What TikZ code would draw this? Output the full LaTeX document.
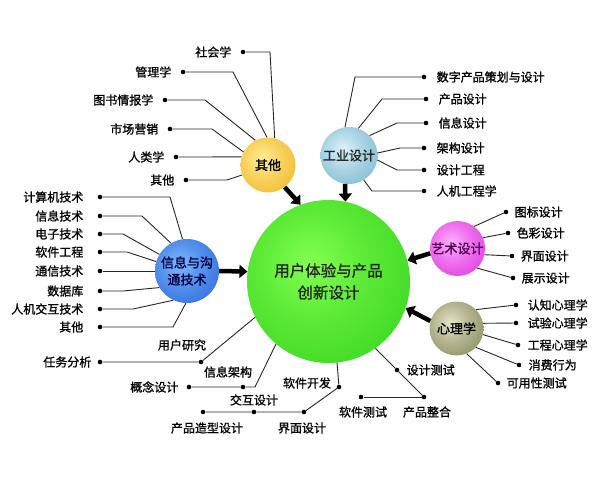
\documentclass[tikz,border=0pt]{standalone}
\usepackage{fontspec}
\setmainfont{Noto Sans CJK SC}[FakeBold=1.2]
\usetikzlibrary{arrows.meta,positioning}
\definecolor{greenin}{RGB}{130,255,80}
\definecolor{greenout}{RGB}{40,205,20}
\definecolor{yellowin}{RGB}{255,238,150}
\definecolor{yellowout}{RGB}{238,172,20}
\definecolor{cyanin}{RGB}{220,242,250}
\definecolor{cyanout}{RGB}{105,172,198}
\definecolor{bluein}{RGB}{125,185,255}
\definecolor{blueout}{RGB}{30,90,210}
\definecolor{pinkin}{RGB}{255,175,255}
\definecolor{pinkout}{RGB}{215,30,215}
\definecolor{olivein}{RGB}{228,228,200}
\definecolor{oliveout}{RGB}{118,118,70}
\newcommand\hubshading[3]{\pgfdeclareradialshading{#1}{\pgfpoint{-6bp}{6bp}}{color(0bp)=(#2); color(18bp)=(#2!55!#3); color(48bp)=(#3); color(100bp)=(#3)}}
\hubshading{mainshade}{greenin}{greenout}
\hubshading{qtshade}{yellowin}{yellowout}
\hubshading{gyshade}{cyanin}{cyanout}
\hubshading{xxshade}{bluein}{blueout}
\hubshading{ysshade}{pinkin}{pinkout}
\hubshading{xlshade}{olivein}{oliveout}

\begin{document}
\begin{tikzpicture}[x=1pt,y=-1pt,
  hub/.style={circle,shade,inner sep=0pt,align=center,font=\fontsize{13}{17}\selectfont},
  dot/.style={circle,fill=black,inner sep=0pt,minimum size=4.6pt},
  lab/.style={inner sep=1pt,font=\fontsize{12}{14}\selectfont},
  ln/.style={black!85,line width=0.9pt},
  big/.style={line width=4.5pt,-{Triangle[length=8pt,width=13pt]}}
]
\useasboundingbox (0,0) rectangle (600,480);
\node[hub,minimum size=163pt,shading=mainshade,text=black!85,font=\fontsize{15.5}{22}\selectfont] (main) at (328.5,281.5) {用户体验与产品\\创新设计};
\node[hub,minimum size=55pt,shading=qtshade] (qt) at (268,165) {其他};
\node[hub,minimum size=57pt,shading=gyshade,text=black!85] (gy) at (349,155.5) {工业设计};
\node[hub,minimum size=64pt,shading=xxshade,text=blue!25!black] (xx) at (187,271) {信息与沟\\通技术};
\node[hub,minimum size=55pt,shading=ysshade,text=violet!60!black] (ys) at (457.5,248.5) {艺术设计};
\node[hub,minimum size=54pt,shading=xlshade] (xl) at (456.5,328.5) {心理学};
\draw[big] (qt.-53) -- (main.110);
\draw[big] (gy.262) -- (main.78);
\draw[big] (xx.0) -- (main.173);
\draw[big] (ys.190) -- (main.15);
\draw[big] (xl.164) -- (main.341);
\node[dot] (qt1) at (243,52) {};
\node[lab,left=8pt of qt1] (qt1t) {社会学};
\node[dot] (qt2) at (183,72) {};
\node[lab,left=8pt of qt2] (qt2t) {管理学};
\node[dot] (qt3) at (165,100) {};
\node[lab,left=8pt of qt3] (qt3t) {图书情报学};
\node[dot] (qt4) at (170,129) {};
\node[lab,left=8pt of qt4] (qt4t) {市场营销};
\node[dot] (qt5) at (176,157) {};
\node[lab,left=8pt of qt5] (qt5t) {人类学};
\node[dot] (qt6) at (186,180) {};
\node[lab,left=8pt of qt6] (qt6t) {其他};
\draw[ln] (qt1) -- (270,52) -- (qt.76);
\draw[ln] (qt2) -- (233,72) -- (qt.92);
\draw[ln] (qt3) -- (205,100) -- (qt.117);
\draw[ln] (qt4) -- (212,129) -- (qt.152);
\draw[ln] (qt5) -- (qt.163);
\draw[ln] (qt6) -- (227,180) -- (qt.201);
\node[dot] (gy1) at (424,77) {};
\node[lab,right=9pt of gy1] (gy1t) {数字产品策划与设计};
\node[dot] (gy2) at (426,99) {};
\node[lab,right=9pt of gy2] (gy2t) {产品设计};
\node[dot] (gy3) at (426,123) {};
\node[lab,right=9pt of gy3] (gy3t) {信息设计};
\node[dot] (gy4) at (424,148) {};
\node[lab,right=9pt of gy4] (gy4t) {架构设计};
\node[dot] (gy5) at (424,170) {};
\node[lab,right=9pt of gy5] (gy5t) {设计工程};
\node[dot] (gy6) at (424,191) {};
\node[lab,right=9pt of gy6] (gy6t) {人机工程学};
\draw[ln] (gy1) -- (355,77) -- (gy.98);
\draw[ln] (gy2) -- (382,99) -- (gy.71);
\draw[ln] (gy3) -- (397,123) -- (gy.44);
\draw[ln] (gy4) -- (400,148) -- (gy.5);
\draw[ln] (gy5) -- (397,170) -- (gy.-9);
\draw[ln] (gy6) -- (372,191) -- (gy.-59);
\node[dot] (xx1) at (100,197) {};
\node[lab,left=13pt of xx1] (xx1t) {计算机技术};
\node[dot] (xx2) at (100,216) {};
\node[lab,left=13pt of xx2] (xx2t) {信息技术};
\node[dot] (xx3) at (100,234) {};
\node[lab,left=13pt of xx3] (xx3t) {电子技术};
\node[dot] (xx4) at (100,252) {};
\node[lab,left=13pt of xx4] (xx4t) {软件工程};
\node[dot] (xx5) at (100,271) {};
\node[lab,left=13pt of xx5] (xx5t) {通信技术};
\node[dot] (xx6) at (100,291) {};
\node[lab,left=13pt of xx6] (xx6t) {数据库};
\node[dot] (xx7) at (100,309) {};
\node[lab,left=13pt of xx7] (xx7t) {人机交互技术};
\node[dot] (xx8) at (100,327) {};
\node[lab,left=13pt of xx8] (xx8t) {其他};
\draw[ln] (xx1) -- (170,197) -- (xx.98);
\draw[ln] (xx2) -- (142,216) -- (xx.120);
\draw[ln] (xx3) -- (123,234) -- (xx.149);
\draw[ln] (xx4) -- (127,252) -- (xx.163);
\draw[ln] (xx5) -- (xx.180);
\draw[ln] (xx6) -- (123,291) -- (xx.211);
\draw[ln] (xx7) -- (133,309) -- (xx.245);
\draw[ln] (xx8) -- (173,327) -- (xx.268);
\node[dot] (ys1) at (506,212) {};
\node[lab,right=5pt of ys1] (ys1t) {图标设计};
\node[dot] (ys2) at (508,233) {};
\node[lab,right=5pt of ys2] (ys2t) {色彩设计};
\node[dot] (ys3) at (512,256) {};
\node[lab,right=5pt of ys3] (ys3t) {界面设计};
\node[dot] (ys4) at (513,278) {};
\node[lab,right=5pt of ys4] (ys4t) {展示设计};
\draw[ln] (ys1) -- (ys.53);
\draw[ln] (ys2) -- (ys.23);
\draw[ln] (ys3) -- (ys.-13);
\draw[ln] (ys4) -- (ys.-45);
\node[dot] (xl1) at (516,305) {};
\node[lab,right=8pt of xl1] (xl1t) {认知心理学};
\node[dot] (xl2) at (516,323) {};
\node[lab,right=8pt of xl2] (xl2t) {试验心理学};
\node[dot] (xl3) at (518,345) {};
\node[lab,right=6pt of xl3] (xl3t) {工程心理学};
\node[dot] (xl4) at (519,365) {};
\node[lab,right=6pt of xl4] (xl4t) {消费行为};
\node[dot] (xl5) at (498,383) {};
\node[lab,right=5pt of xl5] (xl5t) {可用性测试};
\draw[ln] (xl1) -- (xl.44);
\draw[ln] (xl2) -- (xl.11);
\draw[ln] (xl3) -- (xl.-13);
\draw[ln] (xl4) -- (xl.-44);
\draw[ln] (xl5) -- (xl.-68);
\node[dot] (rw1) at (100,362) {};
\node[dot] (rw2) at (201,362) {};
\node[lab,left=5pt of rw1] (rw1t) {任务分析};
\node[lab] (rw2t) at (182,345) {用户研究};
\draw[ln] (rw1) -- (rw2) -- (main.206);
\node[dot] (gn1) at (189,387) {};
\node[dot] (gn2) at (243,387) {};
\node[lab,left=7pt of gn1] (gn1t) {概念设计};
\node[lab] (gn2t) at (228,372) {信息架构};
\draw[ln] (gn1) -- (gn2) -- (255,387) -- (main.230);
\node[dot] (jh1) at (203,412) {};
\node[dot] (jh2) at (254,412) {};
\node[dot] (jh3) at (304,412) {};
\node[dot] (rj) at (339,387) {};
\node[lab] (jh1t) at (207,428) {产品造型设计};
\node[lab] (jh2t) at (254,400) {交互设计};
\node[lab] (jh3t) at (302,428) {界面设计};
\node[lab] (rjt) at (307,383) {软件开发};
\draw[ln] (jh1) -- (jh2) -- (jh3) -- (rj) -- (main.276);
\node[dot] (cs1) at (397,370) {};
\node[dot] (cs2) at (424,397) {};
\node[dot] (cs3) at (361,397) {};
\node[lab,right=6pt of cs1] (cs1t) {设计测试};
\node[lab] (cs2t) at (427,412) {产品整合};
\node[lab] (cs3t) at (363,412) {软件测试};
\draw[ln] (main.305.5) -- (cs1) -- (cs2);
\draw[ln] (cs3) -- (cs2);
\end{tikzpicture}
\end{document}
